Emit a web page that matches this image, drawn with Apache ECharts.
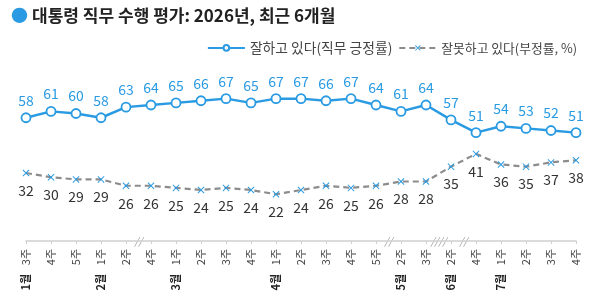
<!DOCTYPE html>
<html><head><meta charset="utf-8">
<script src="https://cdn.jsdelivr.net/npm/echarts@6/dist/echarts.min.js"></script>
<style>html,body{margin:0;padding:0;background:#fff}#c{width:600px;height:300px}</style>
</head><body><div id="c"></div>
<script>
const weeks = ['3주','4주','5주','1주','2주','4주','1주','2주','3주','4주','1주','2주','3주','4주','5주','2주','3주','2주','4주','1주','2주','3주','4주'];
const months = ['1월','','','2월','','','3월','','','','4월','','','','','5월','','6월','','7월','','',''];
const approval = [58,61,60,58,63,64,65,66,67,65,67,67,66,67,64,61,64,57,51,54,53,52,51];
const disapproval = [32,30,29,29,26,26,25,24,25,24,22,24,26,25,26,28,28,35,41,36,35,37,38];
const breaks = [[4,5,'//'],[14,15,'//'],[16,17,'////'],[17,18,'//']];
const titleText = '대통령 직무 수행 평가: 2026년, 최근 6개월';
const names = ['잘하고 있다(직무 긍정률)','잘못하고 있다(부정률, %)'];

const BLUE = '#2a9be2';
const FONT = '"Noto Sans CJK KR", "Noto Sans", sans-serif';
const X = 'path://M0,1 L1,0 L5,4 L9,0 L10,1 L6,5 L10,9 L9,10 L5,6 L1,10 L0,9 L4,5 Z';
const idx = weeks.map((w,i)=>i);

const chart = echarts.init(document.getElementById('c'));
chart.setOption({
  animation:false,
  textStyle:{fontFamily:FONT},
  title:{
    left:6, top:2,
    text:'{d|●} {t|'+titleText+'}',
    textStyle:{rich:{
      d:{color:BLUE,fontSize:17,fontFamily:FONT},
      t:{color:'#222',fontSize:17,fontFamily:FONT}
    }}
  },
  legend:{
    right:18, top:36, itemWidth:37, itemHeight:7, itemGap:6,
    textStyle:{color:'#444',fontSize:12.8,fontFamily:FONT},
    data:[{name:names[0],textStyle:{fontSize:13.8}},{name:names[1]}]
  },
  grid:{left:26,right:24,top:71,bottom:59},
  xAxis:[{
    type:'category', data:idx, boundaryGap:false,
    axisLine:{lineStyle:{color:'#d0d0d0',width:1.5}},
    axisTick:{alignWithLabel:true,length:3,lineStyle:{color:'#d0d0d0'}},
    axisLabel:{rotate:90,margin:8,interval:0,fontSize:11,color:'#444',fontFamily:FONT,formatter:(v)=>weeks[v]}
  },{
    type:'category', data:idx, boundaryGap:false, position:'bottom',
    axisLine:{show:false}, axisTick:{show:false},
    axisLabel:{rotate:90,margin:33,interval:0,fontSize:11,color:'#222',fontWeight:'bold',fontFamily:FONT,formatter:(v)=>months[v]}
  }],
  yAxis:{type:'value',min:0,max:80,show:false,splitLine:{show:false}},
  series:[{
    name:names[0], type:'line', data:approval,
    symbol:'circle', symbolSize:9,
    lineStyle:{color:BLUE,width:2.5},
    itemStyle:{color:'#fff',borderColor:BLUE,borderWidth:1.8},
    label:{show:true,position:'top',distance:5,color:BLUE,fontSize:14,fontFamily:FONT}
  },{
    name:names[1], type:'line', data:disapproval,
    symbol:X, symbolSize:7,
    lineStyle:{color:'#8c8c8c',width:2.2,type:[6,4]},
    itemStyle:{color:BLUE},
    label:{show:true,position:'bottom',distance:7,color:'#333',fontSize:14,fontFamily:FONT}
  }]
});

const g = breaks.map(b=>{
  const p1 = chart.convertToPixel({xAxisIndex:0,yAxisIndex:0},[b[0],0]);
  const p2 = chart.convertToPixel({xAxisIndex:0,yAxisIndex:0},[b[1],0]);
  return {type:'text',x:(p1[0]+p2[0])/2,y:p1[1],
    style:{text:b[2],fill:'#999',font:'italic 10px '+FONT,align:'center',verticalAlign:'middle',backgroundColor:'#fff'}};
});
chart.setOption({graphic:g});
</script></body></html>
